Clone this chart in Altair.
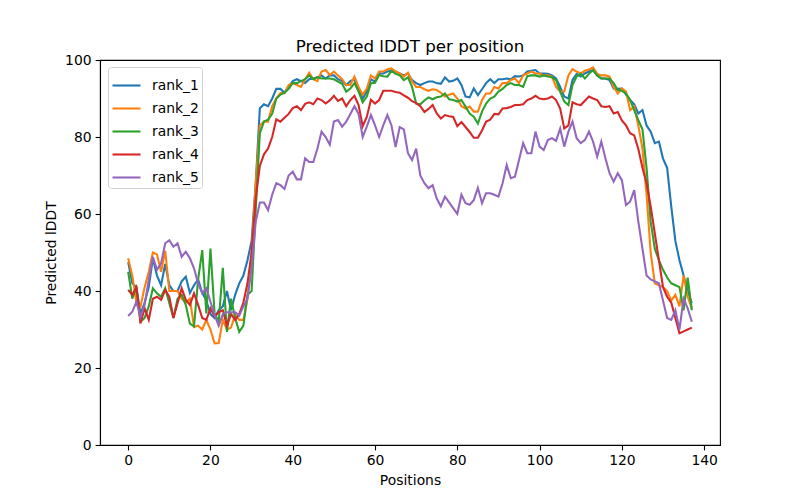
import altair as alt
import pandas as pd

ranks = ["rank_1", "rank_2", "rank_3", "rank_4", "rank_5"]
colors = ["#1f77b4", "#ff7f0e", "#2ca02c", "#d62728", "#9467bd"]

rank_1 = [47.5, 42, 41, 34, 37, 41, 48.5, 44, 41.5, 47,
          41.5, 40, 40, 42.5, 43.7, 39.5, 41.5, 43, 39.5, 37.5,
          34, 33, 35, 36, 40, 35, 39, 42, 44, 48,
          53, 68, 87.5, 88.5, 88, 90, 92.5, 92.5, 91.5, 93,
          94.5, 95, 94.5, 94, 95, 95.2, 95.5, 96, 95.2, 96,
          96, 95, 94.5, 93.5, 94.5, 95, 92.2, 90, 91.8, 95,
          94.4, 96.5, 96.5, 97, 97.2, 97, 96.5, 96, 96.5, 94.8,
          94, 93.5, 94, 94.4, 94.4, 94, 93.8, 95.5, 94.4, 94.6,
          95.2, 93.5, 90.5, 90.3, 92.6, 90.9, 92.4, 94, 95, 94,
          95, 95, 95.2, 95, 95.8, 95.7, 96, 97, 97.2, 97.4,
          96.5, 96.5, 96.4, 96, 95.2, 93, 90.5, 90, 94.8, 96.4,
          95.7, 96.5, 97, 97.4, 96, 95.2, 95.2, 94.8, 92.6, 92.5,
          92.6, 91, 89.6, 88.5, 86.1, 87, 83, 81.4, 78.4, 78.8,
          74.4, 72, 62, 53, 48, 44, 40, 36.8]

rank_2 = [48.5, 44, 37, 36, 41, 45, 50, 49.5, 45, 50.5,
          40, 40, 40, 38, 37, 38, 30.7, 31, 30, 32.5,
          30, 26.4, 26.5, 32.5, 30, 30.5, 33.8, 32.5, 32.5, 38,
          50, 68, 83, 84, 84, 88, 90, 91.4, 91.4, 93.5,
          94, 93.5, 93, 95, 96.7, 95, 94.5, 97, 97.4, 96.1,
          97, 96, 95, 93.5, 93.5, 95.7, 93, 91, 92.6, 96,
          95.2, 97, 97, 97.6, 97.8, 97, 96.5, 95.7, 96.7, 94.4,
          93, 93, 92.4, 92, 92.4, 92.2, 91.5, 90.5, 91, 91.3,
          90, 88, 87.4, 87.9, 86.6, 86.6, 89.6, 91.3, 91.3, 93,
          92.6, 94, 94, 94.8, 95.2, 94, 96, 96.5, 97, 96.5,
          96.5, 96, 96, 95.7, 93, 91.8, 91.8, 96, 97.6, 97,
          96.5, 97.2, 97.5, 98.1, 96.4, 96, 96, 95.7, 93, 91.3,
          92.6, 91.8, 87, 87.9, 83, 77, 65, 50, 42, 41.5,
          41, 40, 37.5, 39, 36, 44, 38.5, 35.5]

rank_3 = [45, 38, 41, 32, 33, 36, 40.7, 39.4, 38.5, 40.7,
          36.8, 33, 38, 39, 36.4, 31.5, 30.8, 43, 50.6, 34.2,
          51, 34.2, 32, 46, 29.4, 38, 33, 29.4, 31, 39,
          40, 61, 81, 84, 84.5, 86, 90, 91, 91.5, 92.5,
          94, 94, 94.5, 95, 96, 95, 95.5, 95.2, 95.2, 95.2,
          95, 94.4, 93.8, 91.8, 92.6, 94, 91.8, 89, 90.5, 94,
          94.1, 96.1, 95.8, 95.7, 97.2, 96.4, 96, 94.8, 95.5, 93,
          88.7, 88.5, 89.5, 90.3, 89.8, 90.3, 90.5, 91.3, 89.8, 89.6,
          89.2, 89.6, 87.9, 86.1, 85.3, 83.5, 86.6, 88.7, 90, 90.5,
          91.8, 92.5, 93.5, 94, 93.5, 93.5, 93, 95.8, 96, 96,
          95.7, 96, 95.7, 95.5, 94.8, 91.8, 89.2, 88.3, 93.5, 95.7,
          96.4, 95.2, 96.4, 97.4, 96, 95.2, 95.2, 95.2, 94, 92.2,
          92, 91.3, 89.6, 87, 84.4, 82, 72, 58, 51, 48,
          45.5, 43.5, 42, 41.5, 41, 35, 43.5, 35]

rank_4 = [40.3, 39, 41, 31.6, 35.5, 32.5, 38, 38.5, 37.7, 40.3,
          38.5, 33, 36.8, 40.7, 37.7, 36.4, 39.4, 36.4, 33, 32.5,
          35.5, 33.4, 34.5, 35, 31, 34, 32.5, 34, 37, 42,
          50, 64, 72.5, 75.5, 77, 80, 84.6, 84, 85, 86,
          87.5, 88, 87, 88.6, 89, 88.5, 90, 89.6, 88.7, 89.5,
          90.7, 89.4, 90, 88, 89.6, 90.7, 88.3, 82.8, 85.2, 89.7,
          88.7, 89.6, 92, 92, 92, 91.7, 91.5, 90.8, 90.2, 89.3,
          88.8, 88, 86.5, 87.3, 88.3, 86.1, 84.8, 85.7, 85.4, 85.2,
          82.8, 83.9, 82.6, 81.3, 79.8, 79.8, 81.7, 84, 84.5, 86,
          85.9, 87.4, 87.5, 87.8, 88.3, 88.3, 88.5, 89.6, 90, 90.7,
          90, 89.8, 90, 90.5, 89.6, 87.4, 82.2, 83, 89, 88.5,
          88.3, 89.4, 90.5, 90, 89.6, 88, 87.8, 88, 86.1, 86.5,
          84.3, 83, 81, 80.4, 76.9, 72, 68, 62, 55, 48,
          41, 38.5, 37, 33, 29, 29.5, 30, 30.5]

rank_5 = [33.5, 34.6, 37.2, 33.2, 36.4, 42.9, 48.9, 45.5, 47.2, 52.4,
          53.2, 51.5, 52.4, 48.9, 50.2, 48.5, 45.9, 42, 39.4, 40.7,
          37.2, 33.8, 31, 34, 34.5, 34.5, 34.5, 33.6, 36, 38,
          46, 58, 63, 63, 61, 65, 68, 67.5, 66.5, 70,
          71, 69, 69, 74.5, 73.5, 73.5, 77, 81.4, 80, 78,
          84, 84.4, 82.7, 84, 86, 88, 86, 80, 82.7, 85.7,
          83, 80, 83, 85.7, 83, 77.4, 82.6, 82, 75.8, 74,
          77, 70, 68, 66.7, 67.5, 64, 62, 64.5, 63, 61.5,
          60, 65, 62.8, 62.4, 63.6, 66.8, 62.8, 65.4, 65.4, 65,
          64.5, 68, 72.7, 69.3, 69.7, 74, 78.4, 75.8, 75.8, 81.4,
          77.5, 76.6, 79.2, 79.7, 79, 82.2, 77.5, 81.4, 84, 79.7,
          78.4, 79.2, 81.4, 78.8, 74.9, 78.8, 74.5, 70.6, 68.4, 70.6,
          68.8, 62.3, 63.2, 66.2, 58, 51, 44, 43, 42.5, 42,
          37.5, 33, 32.5, 35, 30, 38, 35.5, 32]

series = [rank_1, rank_2, rank_3, rank_4, rank_5]
x_ticks = [0, 20, 40, 60, 80, 100, 120, 140]
y_ticks = [0, 20, 40, 60, 80, 100]

rows = []
for name, vals in zip(ranks, series):
    for i, v in enumerate(vals):
        rows.append({"pos": i, "lddt": v, "rank": name})
df = pd.DataFrame(rows)

font = "DejaVu Sans"

chart = alt.Chart(df).mark_line(strokeWidth=2.08, clip=True).encode(
    x=alt.X("pos:Q", title="Positions",
            scale=alt.Scale(domain=[-6.85, 143.85], nice=False, zero=False),
            axis=alt.Axis(values=x_ticks, grid=False, format="d")),
    y=alt.Y("lddt:Q", title="Predicted lDDT",
            scale=alt.Scale(domain=[0, 100], nice=False),
            axis=alt.Axis(values=y_ticks, grid=False, format="d")),
    color=alt.Color("rank:N", scale=alt.Scale(domain=ranks, range=colors),
                    legend=alt.Legend(title=None, orient="none", legendX=8, legendY=7,
                                      symbolType="stroke", symbolSize=784,
                                      symbolStrokeWidth=2.08,
                                      labelFontSize=13.9, labelFont=font,
                                      labelColor="black", labelOffset=10,
                                      rowPadding=-8, padding=3,
                                      strokeColor="#d0d0d0", fillColor="white",
                                      cornerRadius=3)),
).properties(
    width=620, height=385,
    title=alt.TitleParams("Predicted lDDT per position", fontSize=16.7, font=font,
                          fontWeight="normal", color="black", offset=-3),
    autosize=alt.AutoSizeParams(type="none"),
    padding={"left": 92, "top": 52, "right": 64, "bottom": 46},
).configure_view(
    stroke="black", strokeWidth=1.1
).configure_axis(
    domainColor="black", domainWidth=1.1, tickColor="black", tickWidth=1.1,
    tickSize=4.9, labelFontSize=13.9, labelFont=font, labelColor="black",
    labelPadding=4, titleFontSize=13.9, titleFont=font, titleColor="black",
    titleFontWeight="normal", titlePadding=6
)

chart.save("out.html", embed_options={"renderer": "svg", "actions": False})
